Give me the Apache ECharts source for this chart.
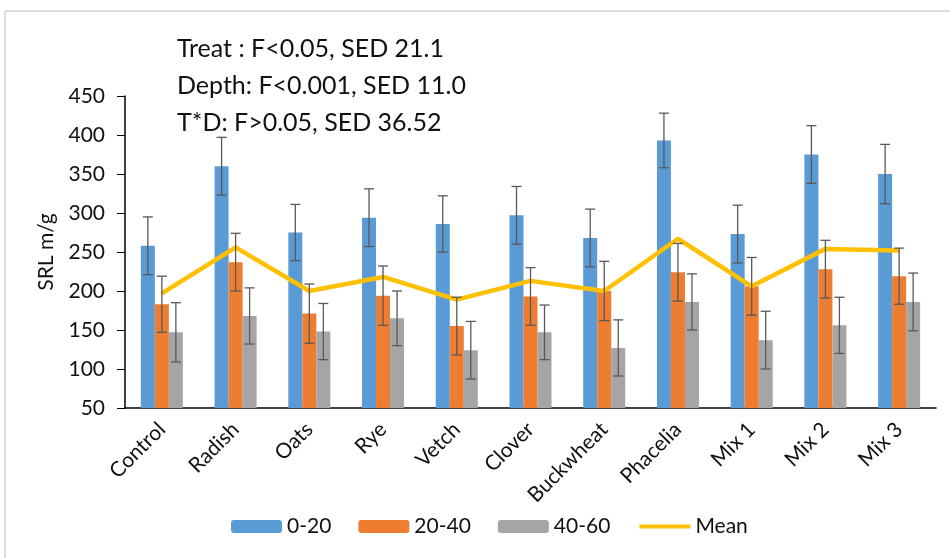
<!DOCTYPE html>
<html>
<head>
<meta charset="utf-8">
<script src="https://cdn.jsdelivr.net/npm/echarts@6/dist/echarts.min.js"></script>
<style>
html,body{margin:0;padding:0;background:#fff;}
#chart{width:950px;height:558px;}
</style>
</head>
<body>
<div id="chart"></div>
<script>
var categories = ['Control','Radish','Oats','Rye','Vetch','Clover','Buckwheat','Phacelia','Mix 1','Mix 2','Mix 3'];
var depth0_20  = [258, 360, 275, 294, 286, 297, 268, 393, 273, 375, 350];
var depth20_40 = [183, 237, 171, 194, 155, 193, 200, 224, 206, 228, 219];
var depth40_60 = [147, 168, 148, 165, 124, 147, 127, 186, 137, 156, 186];
var meanValues = [197, 256, 200, 218, 189, 213, 200, 267, 206, 254, 252];
var err0_20    = [37, 37, 36, 37, 36, 37, 37, 35, 37, 37, 38];
var err20_40   = [36, 37, 38, 38, 37, 37, 38, 37, 37, 37, 36];
var err40_60   = [38, 36, 36, 35, 37, 35, 36, 36, 37, 36, 37];
var seriesNames = ['0-20', '20-40', '40-60', 'Mean'];
var yTicks = [50, 450, 50]; // min, max, interval
var statLines = ['Treat : F<0.05, SED 21.1', 'Depth: F<0.001, SED 11.0', 'T*D: F>0.05, SED 36.52'];

var FONT = 'Lato';
var TXT = '#111111';
var BAR_PCT = 0.19;
var barColors = ['#5B9BD5', '#ED7D31', '#A5A5A5'];

function errSeries(values, errs, idx) {
  var data = values.map(function (v, i) { return [i, v - errs[i], v + errs[i]]; });
  return {
    type: 'custom',
    name: 'err' + idx,
    z: 5,
    silent: true,
    data: data,
    encode: { x: 0, y: [1, 2] },
    renderItem: function (params, api) {
      var ci = api.value(0);
      var lo = api.coord([ci, api.value(1)]);
      var hi = api.coord([ci, api.value(2)]);
      var band = api.size([1, 0])[0];
      var bw = band * BAR_PCT;
      var x = lo[0] + (idx - 1) * bw;
      var cap = 5;
      var st = { stroke: '#595959', lineWidth: 1.3 };
      return {
        type: 'group',
        children: [
          { type: 'line', shape: { x1: x, y1: hi[1], x2: x, y2: lo[1] }, style: st },
          { type: 'line', shape: { x1: x - cap, y1: hi[1], x2: x + cap, y2: hi[1] }, style: st },
          { type: 'line', shape: { x1: x - cap, y1: lo[1], x2: x + cap, y2: lo[1] }, style: st }
        ]
      };
    }
  };
}

var chart = echarts.init(document.getElementById('chart'));
var option = {
  animation: false,
  textStyle: { fontFamily: FONT },
  title: {
    text: statLines.join('\n'),
    left: 172, top: 25,
    textStyle: { fontFamily: FONT, fontSize: 25, fontWeight: 'normal', color: TXT, lineHeight: 37 }
  },
  graphic: [
    { type: 'line', shape: { x1: 5, y1: 11, x2: 950, y2: 11 }, style: { stroke: '#D0D0D0', lineWidth: 1.5 } },
    { type: 'line', shape: { x1: 5, y1: 11, x2: 5, y2: 558 }, style: { stroke: '#D0D0D0', lineWidth: 1.5 } }
  ],
  legend: {
    data: [
      seriesNames[0], seriesNames[1], seriesNames[2],
      { name: seriesNames[3], itemStyle: { opacity: 0, color: 'rgba(0,0,0,0)', borderWidth: 0 }, lineStyle: { width: 4, color: '#FFC000' } }
    ],
    bottom: 16,
    left: 226,
    itemWidth: 51,
    itemHeight: 13,
    itemGap: 27,
    textStyle: { fontFamily: FONT, fontSize: 21, color: TXT },
    selectedMode: false
  },
  grid: { left: 125, right: 14, top: 96, bottom: 150, containLabel: false },
  xAxis: {
    type: 'category',
    data: categories,
    axisLine: { lineStyle: { color: '#000', width: 1.5 } },
    axisTick: { show: false },
    axisLabel: { rotate: 45, margin: 18, fontFamily: FONT, fontSize: 21, color: TXT, interval: 0 }
  },
  yAxis: {
    type: 'value',
    min: yTicks[0], max: yTicks[1], interval: yTicks[2],
    name: 'SRL m/g',
    nameLocation: 'middle',
    nameGap: 68,
    nameTextStyle: { fontFamily: FONT, fontSize: 21, color: TXT },
    axisLine: { show: true, lineStyle: { color: '#000', width: 1.5 } },
    axisTick: { show: true, length: 8, lineStyle: { color: '#000' } },
    axisLabel: { margin: 20, fontFamily: FONT, fontSize: 21, color: TXT },
    splitLine: { show: false }
  },
  series: [
    { name: seriesNames[0], type: 'bar', data: depth0_20, barWidth: (BAR_PCT * 100) + '%', barGap: '0%', itemStyle: { color: barColors[0] } },
    { name: seriesNames[1], type: 'bar', data: depth20_40, barWidth: (BAR_PCT * 100) + '%', barGap: '0%', itemStyle: { color: barColors[1] } },
    { name: seriesNames[2], type: 'bar', data: depth40_60, barWidth: (BAR_PCT * 100) + '%', barGap: '0%', itemStyle: { color: barColors[2] } },
    { name: seriesNames[3], type: 'line', data: meanValues, z: 4, symbol: 'none', lineStyle: { color: '#FFC000', width: 4.5 }, itemStyle: { color: '#FFC000' } },
    errSeries(depth0_20, err0_20, 0),
    errSeries(depth20_40, err20_40, 1),
    errSeries(depth40_60, err40_60, 2)
  ]
};
chart.setOption(option);
</script>
</body>
</html>
